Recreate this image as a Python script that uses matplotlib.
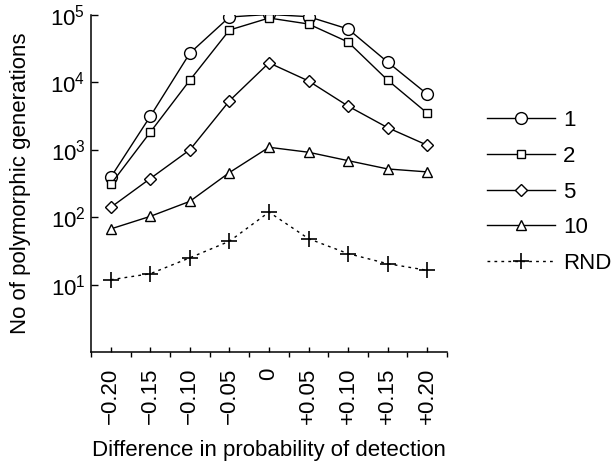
import matplotlib
matplotlib.use("Agg")
import matplotlib.pyplot as plt
from matplotlib.ticker import FixedLocator, NullLocator

plt.rcParams['font.family'] = ['Liberation Sans', 'DejaVu Sans']

# difference in probability of detection
diff = [-0.20, -0.15, -0.10, -0.05, 0.0, 0.05, 0.10, 0.15, 0.20]
tick_labels = ['\u22120.20', '\u22120.15', '\u22120.10', '\u22120.05', '0',
               '+0.05', '+0.10', '+0.15', '+0.20']

# no of polymorphic generations, per series
gen_1 = [392, 3150, 27200, 93400, 102000, 94400, 62000, 20000, 6700]
gen_2 = [308, 1830, 10800, 59800, 90200, 73500, 39700, 10800, 3500]
gen_5 = [140, 375, 1000, 5330, 19500, 10500, 4450, 2130, 1170]
gen_10 = [67, 103, 172, 460, 1090, 920, 690, 520, 470]
gen_rnd = [11.8, 14.5, 25, 44, 119, 48, 28.8, 20.4, 16.3]

series_labels = ['1', '2', '5', '10', 'RND']
fs = 16

fig = plt.figure(figsize=(6.12, 4.61), dpi=100)
ax = fig.add_axes([91 / 612, 109 / 461, 356 / 612, 337 / 461])

k = dict(color='black', lw=1.0, mfc='white', mec='black', mew=1.0)
ax.plot(diff, gen_1, marker='o', ms=8.5, label=series_labels[0], **k)
ax.plot(diff, gen_2, marker='s', ms=6.0, label=series_labels[1], **k)
ax.plot(diff, gen_5, marker='D', ms=6.5, label=series_labels[2], **k)
ax.plot(diff, gen_10, marker='^', ms=7.5, label=series_labels[3], **k)
ax.plot(diff, gen_rnd, marker='+', ms=11, color='black', lw=1.0,
        mew=1.2, dashes=(2, 3), label=series_labels[4])

ax.set_yscale('log')
ax.set_ylim(1, 1e5)
ax.set_xlim(-0.225, 0.225)

ax.yaxis.set_major_locator(FixedLocator([1e1, 1e2, 1e3, 1e4, 1e5]))
ax.yaxis.set_minor_locator(NullLocator())
ax.set_xticks(diff)
ax.set_xticklabels(tick_labels, rotation=90)
ax.set_xticks([-0.225 + 0.05 * i for i in range(10)], minor=True)

ax.tick_params(axis='y', which='major', direction='in', length=5, width=1,
               labelsize=fs, pad=4)
ax.tick_params(axis='x', which='major', direction='in', length=3.6, width=1,
               labelsize=fs, pad=11)
ax.tick_params(axis='x', which='minor', direction='out', length=3.6, width=1)

for side in ['top', 'right']:
    ax.spines[side].set_visible(False)
for side in ['left', 'bottom']:
    ax.spines[side].set_linewidth(1.1)

ax.set_ylabel('No of polymorphic generations', fontsize=fs, labelpad=14)
ax.set_xlabel('Difference in probability of detection', fontsize=fs, labelpad=12)

fig.legend(loc='center left', bbox_to_anchor=(487 / 612, 1 - 192 / 461),
           frameon=False, fontsize=fs, handlelength=3.06, handletextpad=0.35,
           labelspacing=0.66, borderpad=0, borderaxespad=0)

fig.savefig('out.png', dpi=100)
